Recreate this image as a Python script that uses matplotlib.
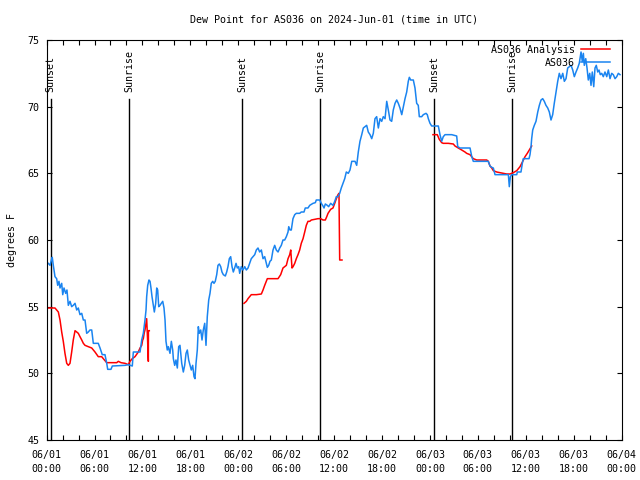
"""Dew point chart for station AS036, observations vs analysis, 06/01-06/04 UTC."""

import matplotlib

matplotlib.use("Agg")
import matplotlib.pyplot as plt
from matplotlib.ticker import MultipleLocator

plt.rcParams["font.family"] = ["DejaVu Sans Mono"]
FS = 7.2

TITLE = "Dew Point for AS036 on 2024-Jun-01 (time in UTC)"

# hours since 2024-06-01 00:00 UTC
obs_hours = [
    0.21, 0.43, 0.64, 0.71, 0.84, 1.05, 1.26, 1.39, 1.55, 1.68, 1.89, 2.02, 2.18, 2.39,
    2.55, 2.72, 2.93, 3.14, 3.34, 3.56, 3.77, 3.97, 4.18, 4.40, 4.60, 4.81, 5.02, 5.22,
    5.43, 5.65, 5.85, 6.47, 6.69, 6.97, 7.31, 7.53, 7.65, 8.06, 8.23, 9.82, 10.23, 10.73,
    10.86, 11.70, 11.91, 12.11, 12.32, 12.45, 12.53, 12.66, 12.82, 12.95, 13.07, 13.20,
    13.36, 13.49, 13.66, 13.79, 13.91, 14.04, 14.20, 14.36, 14.54, 14.70, 14.83, 14.95,
    15.11, 15.24, 15.45, 15.62, 15.79, 15.87, 16.04, 16.20, 16.37, 16.54, 16.70, 16.92,
    17.12, 17.29, 17.46, 17.62, 17.79, 17.96, 18.12, 18.29, 18.46, 18.58, 18.71, 18.87,
    19.00, 19.12, 19.30, 19.46, 19.62, 19.80, 19.96, 20.12, 20.30, 20.46, 20.62, 20.80,
    20.96, 21.12, 21.30, 21.46, 21.63, 21.80, 21.96, 22.13, 22.38, 22.55, 22.71, 22.88,
    23.05, 23.22, 23.38, 23.55, 23.72, 23.88, 24.05, 24.18, 24.38, 24.59, 24.81, 25.01,
    25.22, 25.43, 25.63, 25.85, 26.06, 26.26, 26.47, 26.68, 26.89, 27.10, 27.31, 27.51,
    27.64, 27.81, 27.97, 28.14, 28.35, 28.56, 28.76, 28.98, 29.19, 29.39, 29.60, 29.81,
    30.02, 30.23, 30.32, 30.48, 30.64, 30.85, 31.07, 31.27, 31.69, 31.89, 32.23, 32.39,
    32.73, 32.95, 33.36, 33.65, 33.77, 34.20, 34.40, 34.61, 34.74, 34.90, 35.15, 35.32,
    35.57, 35.86, 36.08, 36.28, 36.49, 36.70, 36.90, 37.12, 37.33, 37.53, 37.78, 37.99,
    38.21, 38.62, 38.83, 39.03, 39.24, 39.46, 39.66, 39.87, 40.08, 40.28, 40.50, 40.71,
    40.91, 41.12, 41.33, 41.54, 41.75, 41.96, 42.16, 42.38, 42.59, 42.79, 43.00, 43.21,
    43.41, 43.63, 43.84, 44.04, 44.25, 44.47, 44.67, 44.88, 45.09, 45.29, 45.42, 45.59,
    45.92, 46.13, 46.34, 46.54, 46.67, 46.97, 47.17, 47.51, 47.67, 47.80, 48.01, 48.22,
    48.63, 49.05, 49.26, 49.47, 49.67, 49.89, 50.73, 51.35, 51.48, 51.77, 53.02, 53.24,
    53.43, 55.31, 55.52, 55.74, 55.94, 56.15, 57.82, 57.94, 58.07, 58.24, 58.87, 58.94,
    59.40, 59.57, 59.69, 60.41, 60.53, 60.66, 60.74, 60.87, 61.07, 61.28, 61.50, 61.70,
    61.91, 62.12, 62.32, 62.53, 62.75, 62.95, 63.16, 63.37, 63.57, 63.79, 64.00, 64.20,
    64.41, 64.63, 64.83, 65.04, 65.25, 65.45, 65.67, 65.88, 66.08, 66.29, 66.50, 66.70,
    66.92, 67.08, 67.21, 67.33, 67.51, 67.67, 67.83, 68.01, 68.17, 68.33, 68.51, 68.67,
    68.83, 69.01, 69.17, 69.33, 69.51, 69.71, 69.92, 70.14, 70.34, 70.55, 70.76, 70.96,
    71.18, 71.39, 71.59, 71.80,
]
obs_degf = [
    58.25, 58.1, 58.6, 58.7, 58.1, 57.25, 57.1, 56.6, 56.9, 56.4, 56.75, 55.9, 56.4, 56.0,
    56.25, 55.1, 55.4, 55.0, 55.1, 55.25, 54.75, 54.9, 54.4, 54.5, 54.0, 54.0, 53.0, 53.1,
    53.25, 53.25, 52.25, 52.25, 51.9, 51.4, 51.4, 50.75, 50.3, 50.3, 50.55, 50.6, 50.65, 50.55,
    51.6, 51.6, 52.5, 53.0, 54.0, 54.75, 55.75, 56.6, 57.0, 56.9, 56.4, 55.75,
    55.1, 54.6, 55.25, 56.4, 56.25, 55.0, 55.1, 55.25, 55.4, 54.9, 54.0, 52.4,
    51.75, 52.0, 51.5, 52.4, 51.75, 51.1, 50.6, 51.0, 50.4, 52.0, 52.1, 50.75,
    50.1, 50.6, 51.5, 51.75, 51.0, 50.6, 50.25, 50.6, 49.75, 49.6, 50.75, 51.75,
    53.5, 53.0, 53.25, 52.5, 53.25, 53.75, 52.1, 54.25, 55.5, 56.0, 56.75, 56.9,
    56.75, 56.9, 57.4, 58.1, 58.2, 58.0, 57.6, 57.4, 57.3, 57.6, 58.0, 58.6,
    58.75, 58.0, 57.6, 57.9, 58.25, 57.9, 58.0, 57.5, 58.0, 57.75, 58.0, 57.75,
    57.9, 58.25, 58.6, 58.75, 58.9, 59.25, 59.4, 59.1, 59.25, 58.6, 58.75, 58.25,
    57.95, 58.1, 58.4, 58.5, 59.25, 59.6, 59.25, 59.1, 59.4, 59.6, 60.0, 60.0,
    60.25, 60.6, 61.0, 60.75, 60.75, 61.6, 61.9, 62.0, 62.0, 62.1, 62.1, 62.4,
    62.4, 62.6, 62.75, 62.8, 63.0, 63.0, 62.75, 62.55, 62.4, 62.7, 62.6, 62.5,
    62.75, 62.6, 62.9, 63.25, 63.25, 63.5, 63.9, 64.25, 64.6, 65.1, 65.0, 65.25,
    65.9, 65.9, 65.6, 66.6, 67.4, 67.9, 68.4, 68.5, 68.6, 68.1, 67.9, 67.6,
    68.0, 69.1, 69.25, 68.4, 69.1, 68.9, 69.25, 69.1, 70.4, 69.75, 69.0, 68.9,
    69.75, 70.25, 70.5, 70.25, 69.9, 69.4, 70.0, 70.6, 71.1, 71.9, 72.2, 72.0,
    72.0, 71.4, 70.25, 70.1, 69.25, 69.25, 69.4, 69.5, 69.4, 69.1, 68.75, 68.55,
    68.55, 68.55, 67.9, 67.4, 67.75, 67.9, 67.9, 67.8, 67.0, 66.9, 66.9, 66.25,
    65.9, 65.9, 65.55, 65.45, 65.4, 64.9, 64.9, 64.0, 64.75, 64.9, 64.9, 65.1,
    65.1, 65.75, 66.1, 66.1, 66.4, 67.0, 67.6, 68.25, 68.6, 68.9, 69.6, 70.1,
    70.5, 70.6, 70.4, 70.1, 69.9, 69.6, 69.0, 69.4, 70.25, 71.1, 71.9, 72.5,
    72.1, 72.5, 71.9, 72.1, 72.9, 73.0, 73.1, 72.75, 72.25, 72.6, 72.9, 73.25,
    74.1, 73.4, 74.0, 73.1, 73.6, 72.9, 72.0, 72.5, 71.6, 72.6, 71.5, 72.9,
    73.1, 72.6, 72.75, 72.4, 72.5, 72.25, 72.6, 72.25, 72.75, 72.1, 72.5, 72.4,
    72.1, 72.25, 72.5, 72.4,
]

# analysis comes in three runs with gaps in between
ana1_hours = [
    0.24, 1.05, 1.47, 1.68, 1.89, 2.09, 2.30, 2.52, 2.72, 2.93, 3.14, 3.34, 3.56, 3.77,
    3.97, 4.18, 4.40, 4.60, 4.81, 5.22, 5.65, 6.06, 6.47, 6.90, 7.10, 7.53, 8.15, 8.78,
    8.98, 9.32, 9.82, 10.23, 10.44, 10.73, 11.07, 11.48, 11.70, 11.91, 12.03, 12.11,
    12.23, 12.32, 12.53, 12.64, 12.74, 12.75, 12.86,
]
ana1_degf = [
    54.9, 54.9, 54.6, 54.0, 53.1, 52.4, 51.5, 50.75, 50.6, 50.75, 51.6, 52.5, 53.2, 53.1,
    53.0, 52.75, 52.5, 52.25, 52.1, 52.0, 51.9, 51.6, 51.25, 51.25, 51.1, 50.8, 50.8, 50.8,
    50.9, 50.8, 50.75, 50.65, 50.9, 51.1, 51.25, 51.6, 51.9, 52.1, 52.5, 52.6,
    53.05, 53.25, 54.1, 52.6, 50.9, 53.2, 53.2,
]
ana2_hours = [
    24.72, 25.01, 25.22, 25.63, 26.26, 26.89, 27.10, 27.31, 27.64, 28.98, 29.31, 29.60,
    29.81, 30.02, 30.23, 30.44, 30.57, 30.73, 30.86, 31.07, 31.27, 31.48, 31.69, 31.89,
    32.11, 32.32, 32.52, 32.73, 32.95, 33.15, 33.57, 33.98, 34.32, 34.61, 34.90, 35.08,
    35.24, 35.57, 35.86, 36.08, 36.28, 36.49, 36.61, 36.70, 36.99,
]
ana2_degf = [
    55.25, 55.4, 55.6, 55.9, 55.9, 55.95, 56.25, 56.6, 57.1, 57.1, 57.4, 57.9,
    58.0, 58.1, 58.6, 58.9, 59.25, 57.9, 58.0, 58.25, 58.6, 58.9, 59.25, 59.75,
    60.1, 60.6, 61.1, 61.4, 61.4, 61.5, 61.55, 61.6, 61.6, 61.5, 61.5, 61.75,
    62.0, 62.3, 62.4, 62.75, 63.1, 63.4, 63.5, 58.5, 58.5,
]
ana3_hours = [
    48.38, 48.92, 49.17, 49.47, 49.67, 50.30, 50.93, 51.14, 51.55, 51.98, 52.39, 52.60,
    53.02, 53.43, 53.86, 55.11, 55.31, 55.52, 55.74, 55.94, 56.36, 56.77, 57.19, 57.61,
    58.03, 58.44, 58.87, 59.28, 59.62, 59.91, 60.19, 60.44, 60.74,
]
ana3_degf = [
    67.9, 67.9, 67.55, 67.3, 67.25, 67.25, 67.2, 67.05, 66.9, 66.75, 66.6, 66.5,
    66.4, 66.1, 66.0, 66.0, 65.9, 65.55, 65.4, 65.2, 65.1, 65.05, 65.0, 64.95,
    64.95, 65.05, 65.2, 65.5, 65.9, 66.25, 66.5, 66.75, 67.05,
]

sun_events = ["Sunset", "Sunrise", "Sunset", "Sunrise", "Sunset", "Sunrise"]
sun_hours = [0.51, 10.36, 24.51, 34.27, 48.55, 58.32]

tick_hours = list(range(0, 73, 6))
tick_labels = [
    "06/01\n00:00", "06/01\n06:00", "06/01\n12:00", "06/01\n18:00",
    "06/02\n00:00", "06/02\n06:00", "06/02\n12:00", "06/02\n18:00",
    "06/03\n00:00", "06/03\n06:00", "06/03\n12:00", "06/03\n18:00",
    "06/04\n00:00",
]

RED = "#ff0000"
BLUE = "#1a84f0"


def main() -> None:
    fig = plt.figure(figsize=(6.4, 4.8), dpi=100)
    ax = fig.add_axes([46.6 / 640, 40 / 480, 575 / 640, 400 / 480])

    # sunrise / sunset markers
    for name, h in zip(sun_events, sun_hours):
        ax.plot([h, h], [45, 70.6], color="black", lw=1.0)
        ax.text(h, 71.1, name, rotation=90, ha="center", va="bottom", fontsize=FS)

    ax.plot(ana1_hours, ana1_degf, color=RED, lw=1.1, label="AS036 Analysis")
    ax.plot(ana2_hours, ana2_degf, color=RED, lw=1.1)
    ax.plot(ana3_hours, ana3_degf, color=RED, lw=1.1)
    ax.plot(obs_hours, obs_degf, color=BLUE, lw=1.1, label="AS036")

    ax.set_xlim(0, 72)
    ax.set_ylim(45, 75)
    ax.set_xticks(tick_hours)
    ax.set_xticklabels(tick_labels, fontsize=FS, linespacing=1.5)
    ax.xaxis.set_minor_locator(MultipleLocator(2))
    ax.set_yticks(range(45, 76, 5))
    ax.tick_params(axis="y", labelsize=FS)
    ax.tick_params(which="both", direction="in", top=True, right=True,
                   length=3.3, width=0.8, pad=5)
    ax.tick_params(axis="x", which="major", pad=7)
    for s in ax.spines.values():
        s.set_linewidth(0.8)

    ax.set_ylabel("degrees F", fontsize=FS, labelpad=8)
    fig.text(334 / 640, 1 - 19 / 480, TITLE, ha="center", va="center", fontsize=FS)

    ax.legend(
        loc="upper right",
        bbox_to_anchor=(1 - 12 / 575, 1 - 5 / 400),
        frameon=False,
        markerfirst=False,
        fontsize=FS,
        handlelength=2.9,
        handletextpad=0.6,
        labelspacing=0.3,
        borderpad=0,
        borderaxespad=0,
    )

    fig.savefig("out.png", dpi=100)
    plt.close(fig)


if __name__ == "__main__":
    main()
